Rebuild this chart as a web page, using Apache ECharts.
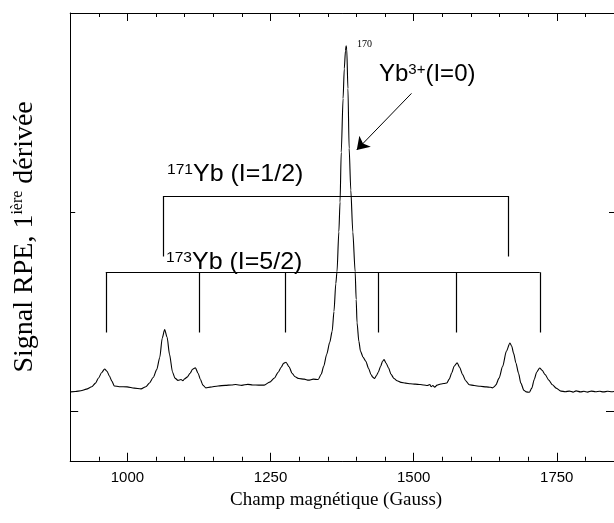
<!DOCTYPE html>
<html><head><meta charset="utf-8">
<script src="https://cdn.jsdelivr.net/npm/echarts@6/dist/echarts.min.js"></script>
<style>html,body{margin:0;padding:0;background:#fff}#c{width:614px;height:523px}</style>
</head><body><div id="c"></div>
<script>
// Magnetic field (Gauss)
const field = [900.7,909.2,918.7,928.3,937.8,944.2,949.5,954.8,960.1,964.3,968.5,972.8,977.0,985.5,999.3,1012.0,1023.7,1032.2,1038.5,1044.9,1051.2,1056.5,1060.8,1065.0,1069.3,1073.5,1078.8,1083.0,1088.3,1093.6,1096.8,1100.0,1104.2,1109.5,1113.8,1118.7,1123.3,1127.6,1131.8,1137.1,1144.5,1158.3,1171.0,1181.6,1189.1,1199.7,1210.3,1218.7,1229.3,1238.9,1248.4,1256.9,1263.3,1268.6,1272.8,1277.0,1282.3,1287.6,1292.9,1299.3,1308.8,1316.3,1324.7,1333.2,1338.5,1342.8,1348.1,1353.4,1357.6,1360.8,1364.0,1366.1,1369.3,1371.4,1373.5,1376.7,1378.8,1380.9,1382.0,1383.1,1385.2,1387.3,1390.2,1393.7,1397.8,1399.6,1401.1,1404.3,1407.2,1411.7,1416.4,1421.2,1425.5,1428.6,1431.8,1435.0,1438.2,1442.4,1445.6,1448.3,1452.0,1456.2,1460.4,1465.7,1471.0,1477.9,1485.9,1494.4,1502.8,1511.3,1517.7,1524.0,1528.3,1530.4,1533.6,1536.8,1541.0,1547.4,1552.7,1558.0,1562.2,1566.4,1570.7,1576.0,1580.2,1585.5,1590.8,1597.2,1605.7,1616.3,1626.9,1634.3,1637.5,1640.7,1643.8,1649.1,1655.5,1661.9,1668.2,1671.4,1674.6,1678.8,1683.1,1687.3,1692.6,1696.8,1702.1,1706.4,1710.6,1714.9,1720.2,1724.4,1729.7,1736.1,1742.4,1748.8,1757.3,1764.7,1772.1,1778.5,1783.8,1791.2,1797.5,1803.9,1810.3,1817.7,1825.1,1831.5,1838.9,1846.3,1850];
// EPR signal (first derivative), arbitrary units
const signal = [0.096,0.098,0.102,0.110,0.122,0.140,0.166,0.192,0.211,0.200,0.176,0.150,0.126,0.122,0.121,0.115,0.111,0.122,0.141,0.168,0.208,0.270,0.367,0.409,0.370,0.285,0.195,0.165,0.154,0.158,0.152,0.162,0.170,0.190,0.210,0.217,0.190,0.158,0.130,0.116,0.120,0.126,0.129,0.131,0.133,0.129,0.134,0.131,0.130,0.130,0.145,0.166,0.195,0.220,0.240,0.245,0.222,0.190,0.172,0.163,0.160,0.155,0.160,0.158,0.185,0.224,0.285,0.345,0.400,0.500,0.640,0.700,0.900,1.050,1.300,1.570,1.720,1.810,1.835,1.820,1.620,1.320,1.110,0.900,0.700,0.560,0.443,0.350,0.300,0.270,0.250,0.215,0.183,0.170,0.163,0.178,0.195,0.225,0.250,0.258,0.240,0.216,0.185,0.163,0.152,0.144,0.140,0.137,0.135,0.133,0.131,0.128,0.133,0.122,0.128,0.120,0.130,0.136,0.138,0.141,0.160,0.191,0.225,0.242,0.220,0.183,0.152,0.132,0.128,0.124,0.121,0.119,0.116,0.122,0.132,0.165,0.224,0.300,0.342,0.325,0.290,0.240,0.191,0.140,0.104,0.096,0.094,0.115,0.158,0.195,0.216,0.205,0.183,0.155,0.132,0.115,0.100,0.097,0.100,0.095,0.101,0.096,0.099,0.095,0.100,0.097,0.099,0.096,0.099,0.097,0.098];

const xTickLabels = [1000, 1250, 1500, 1750];
const yTicks = [0, 1];

// Hyperfine stick diagrams (Gauss) and their levels
const lines171 = [1063, 1665];
const level171 = [1.080, 0.777];   // [bar, foot]
const lines173 = [962.2, 1125.5, 1276.2, 1438.3, 1574.4, 1720.3];
const level173 = [0.6975, 0.394];
const arrowFrom = [1496.2, 1.596];
const arrowTo = [1400.6, 1.312];

function bracketSegs(xs, lv) {
  const segs = [];
  segs.push({coords: [[xs[0], lv[0]], [xs[xs.length - 1], lv[0]]]});
  xs.forEach(x => segs.push({coords: [[x, lv[0]], [x, lv[1]]]}));
  return segs;
}

const chart = echarts.init(document.getElementById('c'), null, {renderer: 'canvas'});
const black = '#000';
const gridRect = {left: 70.2, top: 13, width: 546.7, height: 447.75};
const serif = 'Liberation Serif';
const sans = 'Liberation Sans';

const xBase = {type: 'value', min: 900, max: 1850, splitLine: {show: false}};
const yBase = {type: 'value', min: -0.25, max: 2, splitLine: {show: false}};
const supStyle = {fontFamily: sans, fontSize: 15, fill: black, verticalAlign: 'top', lineHeight: 15};
const mainStyle = {fontFamily: sans, fontSize: 24, fill: black};

chart.setOption({
  animation: false,
  backgroundColor: '#fff',
  grid: [Object.assign({}, gridRect), Object.assign({}, gridRect)],
  xAxis: [
    Object.assign({}, xBase, {gridIndex: 0, position: 'bottom', interval: 50,
      axisLine: {show: true, onZero: false, lineStyle: {color: black, width: 1}},
      axisTick: {show: true, inside: true, length: 4, lineStyle: {color: black}},
      axisLabel: {show: false}}),
    Object.assign({}, xBase, {gridIndex: 0, position: 'top', interval: 50,
      axisLine: {show: true, onZero: false, lineStyle: {color: black, width: 1}},
      axisTick: {show: true, inside: true, length: 4, lineStyle: {color: black}},
      axisLabel: {show: false}}),
    Object.assign({}, xBase, {gridIndex: 1, position: 'bottom',
      axisLine: {show: false, onZero: false},
      axisTick: {show: true, inside: true, length: 8, customValues: xTickLabels, lineStyle: {color: black}},
      axisLabel: {show: true, customValues: xTickLabels, color: black, fontFamily: sans, fontSize: 15, margin: 10,
        formatter: v => String(v)},
      name: 'Champ magnétique (Gauss)', nameLocation: 'middle', nameGap: 30,
      nameTextStyle: {fontFamily: serif, fontSize: 19, color: black, padding: [0, 12, 0, 0]}}),
    Object.assign({}, xBase, {gridIndex: 1, position: 'top',
      axisLine: {show: false, onZero: false},
      axisTick: {show: true, inside: true, length: 8, customValues: xTickLabels, lineStyle: {color: black}},
      axisLabel: {show: false}})
  ],
  yAxis: [
    Object.assign({}, yBase, {gridIndex: 0, position: 'left',
      axisLine: {show: true, onZero: false, lineStyle: {color: black, width: 1}},
      axisTick: {show: true, inside: true, length: 8, customValues: [yTicks[0]], lineStyle: {color: black}},
      axisLabel: {show: false}}),
    Object.assign({}, yBase, {gridIndex: 0, position: 'right',
      axisLine: {show: true, onZero: false, lineStyle: {color: black, width: 1}},
      axisTick: {show: true, inside: true, length: 8, customValues: [yTicks[0]], lineStyle: {color: black}},
      axisLabel: {show: false}}),
    Object.assign({}, yBase, {gridIndex: 1, position: 'left',
      axisLine: {show: false, onZero: false},
      axisTick: {show: true, inside: true, length: 5, customValues: [yTicks[1]], lineStyle: {color: black}},
      axisLabel: {show: false},
      name: 'Signal RPE, 1{sup|ière} dérivée', nameLocation: 'middle', nameGap: 32,
      nameTextStyle: {fontFamily: serif, fontSize: 28, color: black,
        rich: {sup: {fontFamily: serif, fontSize: 16, color: black, verticalAlign: 'top', lineHeight: 16}}}}),
    Object.assign({}, yBase, {gridIndex: 1, position: 'right',
      axisLine: {show: false, onZero: false},
      axisTick: {show: true, inside: true, length: 5, customValues: [yTicks[1]], lineStyle: {color: black}},
      axisLabel: {show: false}})
  ],
  series: [
    {
      type: 'line', xAxisIndex: 0, yAxisIndex: 0,
      data: field.map((g, i) => [g, signal[i]]),
      showSymbol: false, symbol: 'none',
      smooth: 0.25, smoothMonotone: 'x',
      lineStyle: {color: black, width: 1.1},
      clip: true
    },
    {
      type: 'lines', coordinateSystem: 'cartesian2d', xAxisIndex: 0, yAxisIndex: 0,
      data: bracketSegs(lines171, level171).concat(bracketSegs(lines173, level173)),
      lineStyle: {color: black, width: 1.2, opacity: 1},
      symbol: 'none'
    },
    {
      type: 'lines', coordinateSystem: 'cartesian2d', xAxisIndex: 0, yAxisIndex: 0,
      data: [{coords: [arrowFrom, arrowTo]}],
      lineStyle: {color: black, width: 1, opacity: 1},
      symbol: ['none', 'arrow'], symbolSize: [7, 12]
    }
  ],
  graphic: [
    {type: 'text', x: 167, y: 162, scaleX: 1.04, style: {
      text: '{sup|171}{n|Yb (I=1/2)}', fill: black, rich: {sup: supStyle, n: mainStyle}}},
    {type: 'text', x: 166, y: 250, scaleX: 1.04, style: {
      text: '{sup|173}{n|Yb (I=5/2)}', fill: black, rich: {sup: supStyle, n: mainStyle}}},
    {type: 'text', x: 379, y: 62, style: {
      text: '{n|Yb}{sup|3+}{n|(I=0)}', fill: black, rich: {sup: supStyle, n: mainStyle}}},
    {type: 'text', x: 357, y: 39, style: {
      text: '170', fill: black, fontFamily: serif, fontSize: 10}}
  ]
});
</script>
</body></html>
